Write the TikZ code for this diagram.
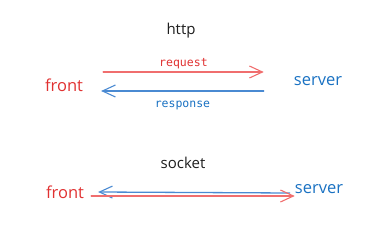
\documentclass[tikz,border=0pt]{standalone}
\usepackage{fontspec}
\setmainfont{Open Sans}
\setmonofont{DejaVu Sans Mono}
\usetikzlibrary{arrows.meta,positioning}
\definecolor{textred}{RGB}{224,49,49}
\definecolor{textblue}{RGB}{25,113,194}
\definecolor{arrowred}{RGB}{240,110,110}
\definecolor{arrowblue}{RGB}{74,138,210}
\definecolor{titlegray}{RGB}{30,30,30}

\begin{document}
\begin{tikzpicture}[x=1pt,y=-1pt,
    title/.style={font=\fontsize{15}{15}\selectfont, text=titlegray, inner sep=1pt},
    sidered/.style={font=\fontsize{16.5}{16.5}\selectfont, text=textred, inner sep=1pt},
    sideblue/.style={font=\fontsize{16.5}{16.5}\selectfont, text=textblue, inner sep=1pt},
    msg/.style={font=\ttfamily\fontsize{11.5}{11.5}\selectfont, inner sep=2pt},
    redline/.style={draw=arrowred, line width=1.3pt, line cap=round},
    blueline/.style={draw=arrowblue, line width=1.3pt, line cap=round},
    tip/.style={-{Straight Barb[length=13pt,width=12pt,line width=1.1pt]}}
]
    \useasboundingbox (0,0) rectangle (382,240);

    % http
    \node[title] (http) at (181,31) {http};
    \node[sidered] (front1) at (64,85) {front};
    \node[sideblue] (server1) at (318,81) {server};
    \draw[redline, tip] ([xshift=19pt,yshift=13pt]front1.east) -- ([xshift=-29pt,yshift=9pt]server1.west)
        node[msg, midway, above=0pt, text=textred] {request};
    \draw[blueline, tip] ([xshift=-29pt,yshift=-10pt]server1.west) -- ([xshift=17pt,yshift=-6pt]front1.east)
        node[msg, midway, below=7pt, text=textblue] {response};

    % socket
    \node[title] (socket) at (183,163) {socket};
    \node[sidered] (front2) at (65,192) {front};
    \node[sideblue] (server2) at (319,189) {server};
    \draw[blueline, tip] ([xshift=-4pt,yshift=-4pt]server2.west) -- ([xshift=13pt,yshift=0pt]front2.east);
    \draw[redline, tip] ([xshift=6pt,yshift=-4pt]front2.east) -- ([xshift=1pt,yshift=-7pt]server2.west);
\end{tikzpicture}
\end{document}
